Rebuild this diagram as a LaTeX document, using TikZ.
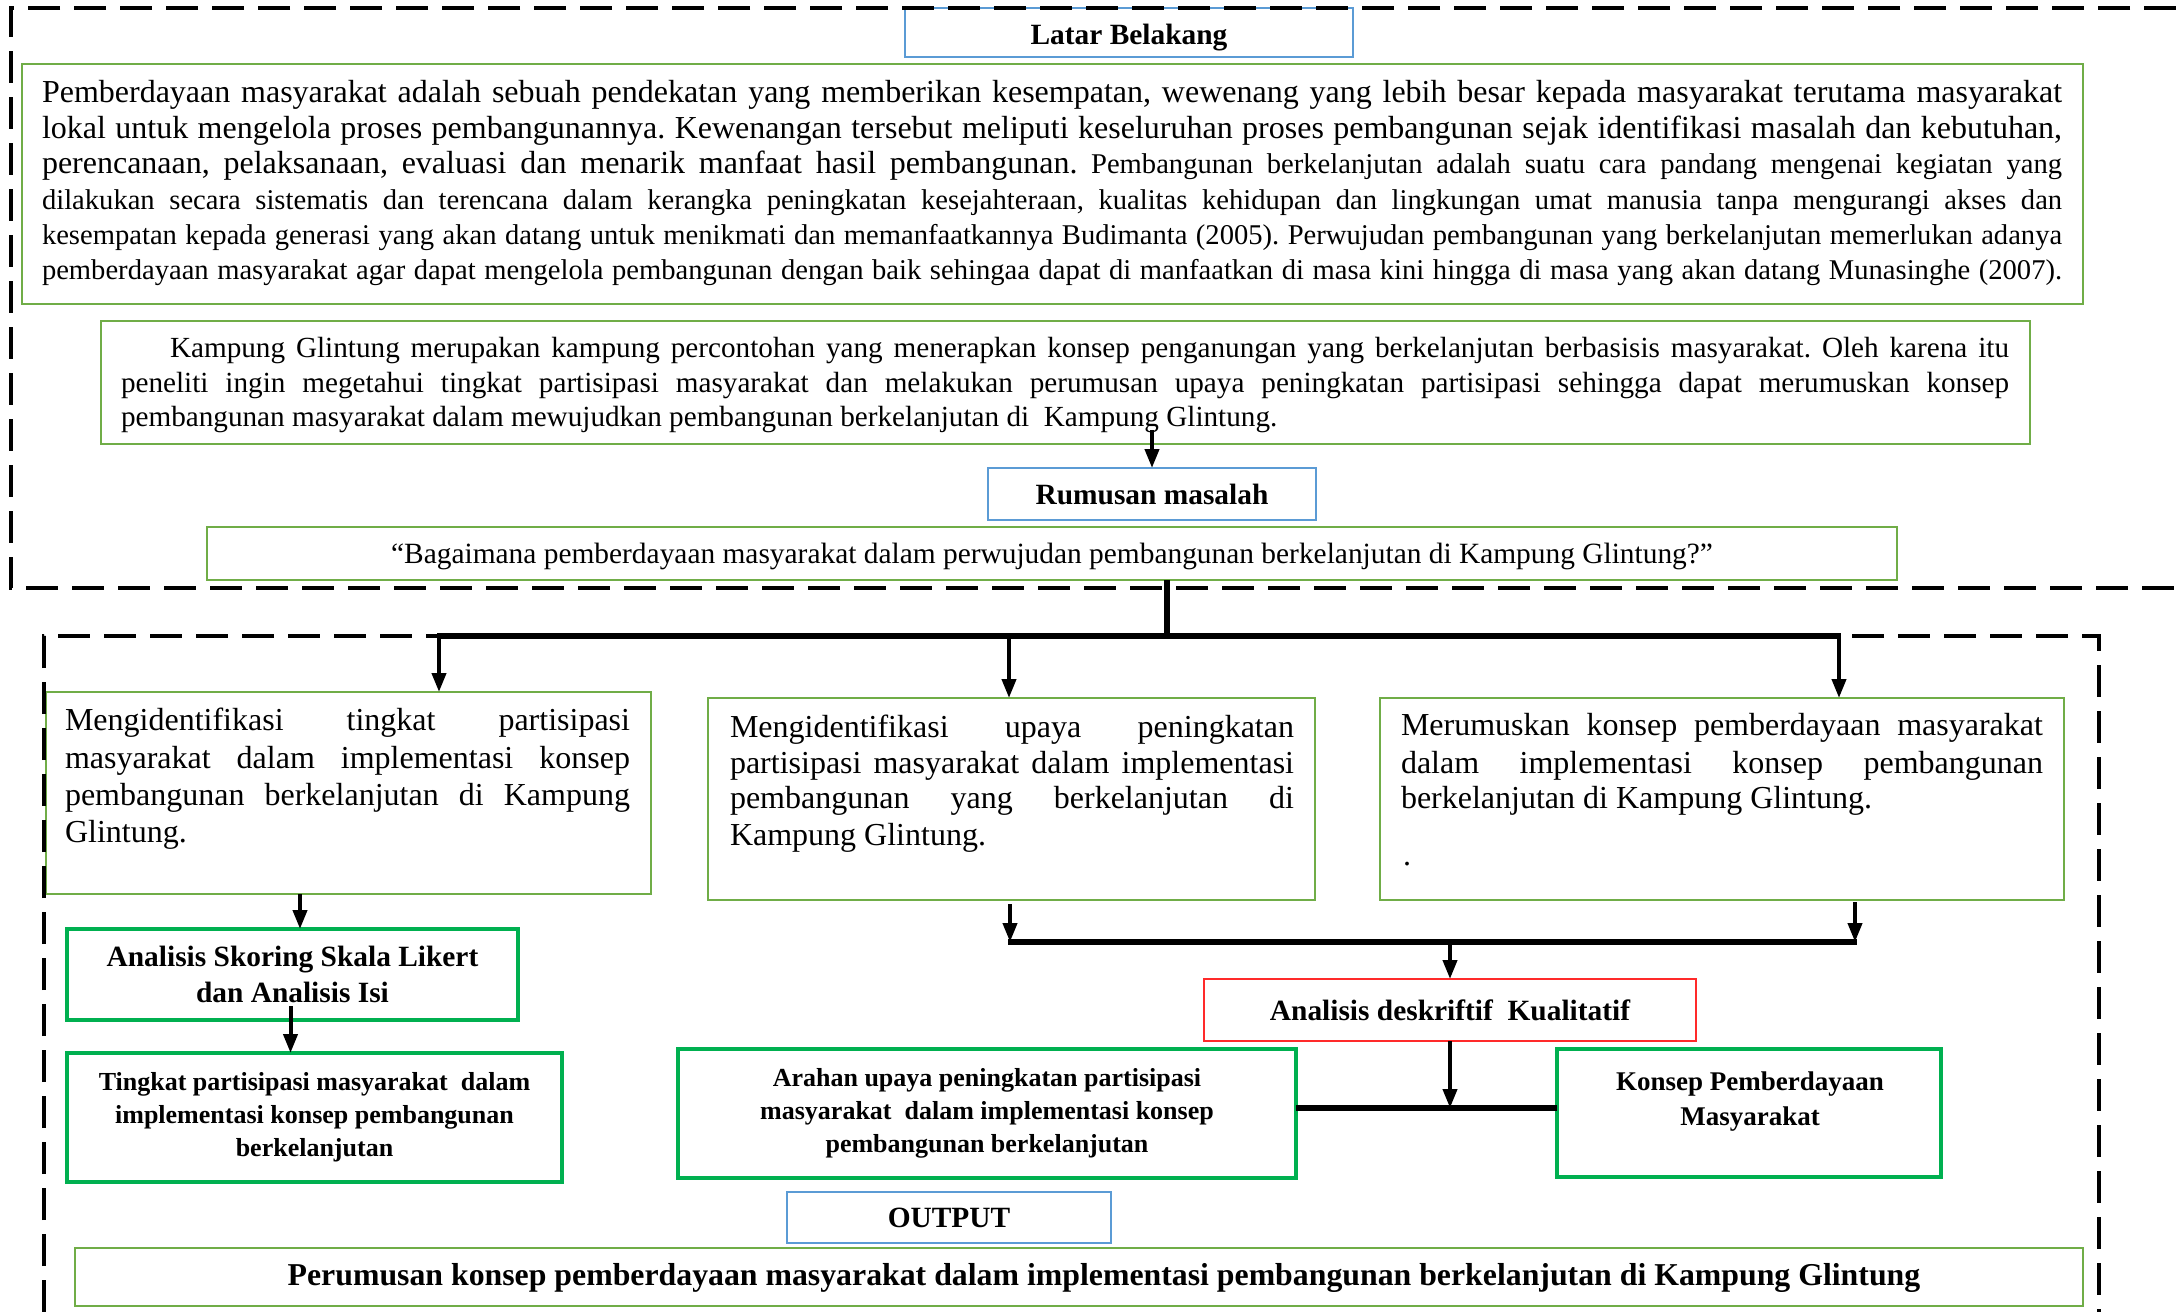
\documentclass[tikz,border=0pt]{standalone}
\usepackage{fontspec}
\setmainfont{Liberation Serif}
\usetikzlibrary{arrows.meta}
\definecolor{olv}{HTML}{70AD47}
\definecolor{brg}{HTML}{00B050}
\definecolor{blu}{HTML}{5B9BD5}
\definecolor{rdd}{HTML}{FF2A2A}
\newcommand\fsA{\fontsize{16}{18}\selectfont}
\newcommand\fsB{\fontsize{14.3}{17}\selectfont}
\newcommand\fsK{\fontsize{14.6}{17}\selectfont}
\newcommand\JL[5]{\node[txt,font=#2] (#1) at #3 {\hbox to #4{\spaceskip=.25em plus 1fil minus .12em\relax #5}};}
\frenchspacing
\begin{document}
\begin{tikzpicture}[x=0.5pt,y=-0.5pt,
 txt/.style={anchor=base west,inner sep=0pt,outer sep=0pt},
 box/.style={draw,anchor=north west,inner sep=0pt,outer sep=0pt,line width=1.4pt},
 gbox/.style={box,draw=olv},
 gtbox/.style={box,draw=brg,line width=1.6pt},
 bbox/.style={box,draw=blu,line width=1.3pt},
 rbox/.style={box,draw=rdd,line width=1pt},
 arr/.style={line width=2pt,-{Triangle[length=9.5pt,width=7pt]}},
 barln/.style={line width=3pt},
 dashln/.style={line width=2pt,dash pattern=on 16pt off 7pt},
 bft/.style={font=\bfseries\fontsize{14.7}{18}\selectfont},
 bfs/.style={font=\bfseries\fontsize{13}{16.5}\selectfont,align=center},
]
\useasboundingbox (0,0) rectangle (2176,1312);

% ---------- boxes ----------
\node[bbox,minimum width=224pt,minimum height=24.5pt] (latar) at (905,8) {};
\node[bft,inner sep=0pt] (latartxt) at (1129,38) {Latar Belakang};
\node[gbox,minimum width=1030.5pt,minimum height=120pt] (bg) at (22,64) {};
\node[gbox,minimum width=964.5pt,minimum height=61.5pt] (kampung) at (101,321) {};
\node[bbox,bft,minimum width=164pt,minimum height=26pt] (rumusan) at (988,468) {Rumusan masalah};
\node[gbox,minimum width=845pt,minimum height=26.5pt] (question) at (207,527) {};
\node[font=\fontsize{14.7}{17}\selectfont,inner sep=0pt] (qtxt) at (1052,556) {“Bagaimana pemberdayaan masyarakat dalam perwujudan pembangunan berkelanjutan di Kampung Glintung?”};

\node[gbox,minimum width=302.5pt,minimum height=101pt] (boxA) at (46,692) {};
\node[gbox,minimum width=303.5pt,minimum height=101pt] (boxB) at (708,698) {};
\node[gbox,minimum width=342pt,minimum height=101pt] (boxC) at (1380,698) {};

\node[gtbox,bft,align=center,minimum width=225.5pt,minimum height=45.5pt] (skor) at (67,929) {Analisis Skoring Skala Likert\\dan Analisis Isi};
\node[gtbox,bfs,minimum width=247.5pt,minimum height=64.5pt] (tingkat) at (67,1053) {Tingkat partisipasi masyarakat\ \ dalam\\implementasi konsep pembangunan\\berkelanjutan};
\node[rbox,bft,minimum width=246pt,minimum height=31pt] (desk) at (1204,979) {Analisis deskriftif\ \ Kualitatif};
\node[gtbox,bfs,minimum width=309pt,minimum height=64.5pt] (arahan) at (678,1049) {Arahan upaya peningkatan partisipasi\\masyarakat\ \ dalam implementasi konsep\\pembangunan berkelanjutan};
\node[gtbox,minimum width=192pt,minimum height=64pt] (konsep) at (1557,1049) {};
\node[bfs,font=\bfseries\fontsize{13.5}{17.5}\selectfont,inner sep=0pt] (konseptxt) at (1750,1102) {Konsep Pemberdayaan\\Masyarakat};
\node[bbox,bft,minimum width=162pt,minimum height=25.5pt] (output) at (787,1192) {OUTPUT};
\node[gbox,minimum width=1004pt,minimum height=29pt] (final) at (75,1248) {};
\node[font=\bfseries\fontsize{15.9}{19}\selectfont,inner sep=0pt] (finaltxt) at (1104,1278) {Perumusan konsep pemberdayaan masyarakat dalam implementasi pembangunan berkelanjutan di Kampung Glintung};

% ---------- top paragraph ----------
\JL{p1}{\fsA}{(42,102)}{1010pt}{Pemberdayaan masyarakat adalah sebuah pendekatan yang memberikan kesempatan, wewenang yang lebih besar kepada masyarakat terutama masyarakat}
\JL{p2}{\fsA}{(42,138)}{1010pt}{lokal untuk mengelola proses pembangunannya. Kewenangan tersebut meliputi keseluruhan proses pembangunan sejak identifikasi masalah dan kebutuhan,}
\JL{p3}{\fsA}{(42,173)}{1010pt}{perencanaan, pelaksanaan, evaluasi dan menarik manfaat hasil pembangunan. {\fsB Pembangunan berkelanjutan adalah suatu cara pandang mengenai kegiatan yang}}
\JL{p4}{\fsB}{(42,209)}{1010pt}{dilakukan secara sistematis dan terencana dalam kerangka peningkatan kesejahteraan, kualitas kehidupan dan lingkungan umat manusia tanpa mengurangi akses dan}
\JL{p5}{\fsB}{(42,244)}{1010pt}{kesempatan kepada generasi yang akan datang untuk menikmati dan memanfaatkannya Budimanta (2005). Perwujudan pembangunan yang berkelanjutan memerlukan adanya}
\JL{p6}{\fsB}{(42,279)}{1010pt}{pemberdayaan masyarakat agar dapat mengelola pembangunan dengan baik sehingaa dapat di manfaatkan di masa kini hingga di masa yang akan datang Munasinghe (2007).}

% ---------- Kampung paragraph ----------
\JL{k1}{\fsK}{(170,357)}{919.5pt}{Kampung Glintung merupakan kampung percontohan yang menerapkan konsep penganungan yang berkelanjutan berbasisis masyarakat. Oleh karena itu}
\JL{k2}{\fsK}{(121,392)}{944pt}{peneliti ingin megetahui tingkat partisipasi masyarakat dan melakukan perumusan upaya peningkatan partisipasi sehingga dapat merumuskan konsep}
\node[txt,font=\fsK] (k3) at (121,426) {pembangunan masyarakat dalam mewujudkan pembangunan berkelanjutan di\ \ Kampung Glintung.};

% ---------- objective boxes text ----------
\JL{a1}{\fsA}{(65,730)}{282.5pt}{Mengidentifikasi tingkat partisipasi}
\JL{a2}{\fsA}{(65,768)}{282.5pt}{masyarakat dalam implementasi konsep}
\JL{a3}{\fsA}{(65,805)}{282.5pt}{pembangunan berkelanjutan di Kampung}
\node[txt,font=\fsA] (a4) at (65,842) {Glintung.};

\JL{b1}{\fsA}{(730,737)}{282pt}{Mengidentifikasi upaya peningkatan}
\JL{b2}{\fsA}{(730,773)}{282pt}{partisipasi masyarakat dalam implementasi}
\JL{b3}{\fsA}{(730,808)}{282pt}{pembangunan yang berkelanjutan di}
\node[txt,font=\fsA] (b4) at (730,845) {Kampung Glintung.};

\JL{c1}{\fsA}{(1401,735)}{321pt}{Merumuskan konsep pemberdayaan masyarakat}
\JL{c2}{\fsA}{(1401,773)}{321pt}{dalam implementasi konsep pembangunan}
\node[txt,font=\fsA] (c3) at (1401,808) {berkelanjutan di Kampung Glintung.};
\node[txt,font=\fsA] (c4) at (1403,865) {.};

% ---------- dashed frames ----------
\draw[dashln] (2176,8) -- (11,8) -- (11,588) -- (2176,588);
\draw[dashln] (44,1312) -- (44,636) -- (2099,636) -- (2099,1312);

% ---------- connectors ----------
\path (rumusan.north |- kampung.south) ++(0,-14) coordinate (ks);
\draw[arr] (ks) -- (rumusan.north);

\coordinate (sp) at (1167,636);
\coordinate (ta) at (439,636);
\coordinate (tb) at (1009,636);
\coordinate (tc) at (1839,636);
\draw[barln] (question.south -| sp) -- (sp);
\draw[arr] (ta) -- (ta |- boxA.north);
\draw[arr] (tb) -- (tb |- boxB.north);
\draw[arr] (tc) -- (tc |- boxC.north);
\draw[barln] ([xshift=-1pt]ta) -- ([xshift=1pt]tc);

\coordinate (askor) at (300,0);
\draw[arr] (boxA.south -| askor) -- (skor.north -| askor);
\path (skor.south) ++(-2,-14) coordinate (ss);
\draw[arr] (ss) -- (ss |- tingkat.north);

\coordinate (jb) at (1010,942);
\coordinate (jc) at (1855,942);
\draw[arr] ([yshift=-2pt]boxB.south -| jb) -- (jb);
\draw[arr] ([yshift=-1pt]boxC.south -| jc) -- (jc);
\draw[barln] ([xshift=-1pt]jb) -- ([xshift=1pt]jc);
\draw[arr] (desk.north |- jb) -- (desk.north);

\coordinate (jo) at (1451,1108);
\draw[arr] (desk.south) -- (desk.south |- jo);
\draw[barln] (arahan.east |- jo) -- (konsep.west |- jo);
\end{tikzpicture}
\end{document}
